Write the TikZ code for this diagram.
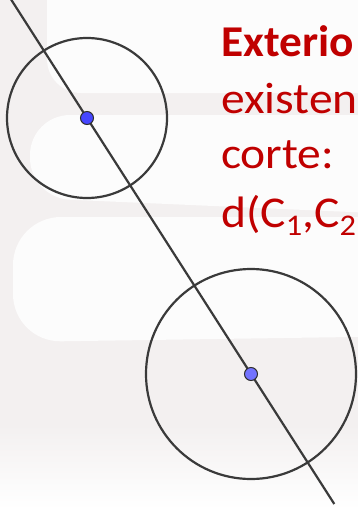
\documentclass[tikz,border=0pt]{standalone}
\usepackage{fontspec}
\setmainfont{Carlito}
\definecolor{bgGrey}{HTML}{F3F0F0}
\definecolor{bgWhite}{HTML}{FCFCFC}
\definecolor{geoLine}{HTML}{3A3A3A}
\definecolor{txtRed}{HTML}{C00000}
\definecolor{ptBlueA}{HTML}{4646FF}
\definecolor{ptBlueB}{HTML}{7373FF}
\newcommand{\wstretch}[1]{\scalebox{1.08}[1]{#1}}
\newcommand{\subdig}[1]{\raisebox{-8pt}{\fontsize{30}{30}\selectfont #1}}
\tikzset{
  geo/.style={draw=geoLine, line width=2.2pt},
  geopt/.style={circle, draw=geoLine!80!black, line width=1pt, inner sep=0pt, minimum size=13pt},
  slidetxt/.style={anchor=base west, inner sep=0pt, text=txtRed, font=\fontsize{44}{53}\selectfont},
  wband/.style={fill=bgWhite, draw=none}
}
\begin{document}
\begin{tikzpicture}[x=1pt,y=-1pt]
\useasboundingbox (0,0) rectangle (358,509);
\clip (0,0) rectangle (358,509);
% background watermark
\fill[bgGrey] (0,0) rectangle (358,509);
\fill[wband, rounded corners=34pt] (47,-40) rectangle (420,93);
\fill[wband, rounded corners=40pt] (30,115) -- (420,115) -- (420,215) -- (30,198) -- cycle;
\fill[wband, rounded corners=48pt] (13,217) -- (420,217) -- (420,336) -- (13,342) -- cycle;
\shade[top color=bgGrey, bottom color=white] (0,425) rectangle (358,509);
% geometry
\coordinate (Ltop) at (9.5,-3);
\coordinate (Lbot) at (334.3,504);
\coordinate (C1) at (87,118);
\coordinate (C2) at (251,374);
\draw[geo] (C1) circle[radius=80];
\draw[geo] (C2) circle[radius=105];
\draw[geo] (Ltop) -- (Lbot);
\node[geopt, fill=ptBlueA] (P1) at (C1) {};
\node[geopt, fill=ptBlueB] (P2) at (C2) {};
% text
\node[slidetxt, font=\fontsize{44}{53}\selectfont\bfseries] (t1) at (221,56) {\scalebox{1.03}[1]{Exterio}};
\node[slidetxt] (t2) at (221,113) {\wstretch{existen}};
\node[slidetxt] (t3) at (221,168) {\wstretch{corte:}};
\node[slidetxt] (t4) at (221,227) {\wstretch{d(C\subdig{1},C\subdig{2}}};
\end{tikzpicture}
\end{document}
